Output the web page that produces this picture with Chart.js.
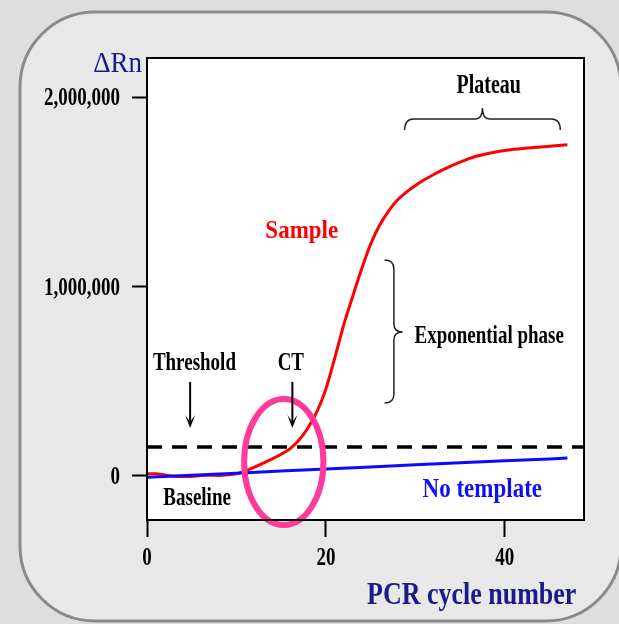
<!DOCTYPE html>
<html>
<head>
<meta charset="utf-8">
<script src="https://cdn.jsdelivr.net/npm/chart.js@4/dist/chart.umd.min.js"></script>
<style>
  html, body { margin: 0; padding: 0; background: #dedede; }
  #wrap { width: 619px; height: 624px; }
</style>
</head>
<body>
<div id="wrap"><canvas id="pcr" width="619" height="624"></canvas></div>
<script>
// Real-time PCR amplification plot – sample vs no template control
const cycles = [0,1,2,3,4,5,6,7,8,9,10,11,12,13,14,15,16,17,18,19,20,21,22,23,
  24,25,26,27,28,29,30,31,32,33,34,35,36,37,38,39,40,41,42,43,44,45,46,47];
const sampleRn = [12000,12000,6000,-1000,-3000,-2000,2000,4000,3000,6000,12000,27000,
  47000,68000,90000,115000,145000,190000,255000,340000,460000,625000,800000,950000,
  1095000,1225000,1325000,1400000,1458000,1500000,1535000,1565000,1592000,1616000,
  1639000,1659000,1677000,1692000,1703000,1712000,1720000,1726000,1731000,1735000,
  1738000,1742000,1746000,1750000];
const ntcCycles = [0,5,10,15,20,25,30,35,40,45,47];
const ntcRn = [-7000,4000,15000,26000,37000,48000,59000,70000,80000,90000,95000];
const thresholdRn = 153000;
const xTicks = [0, 20, 40];
const yTicks = [0, 1000000, 2000000];
const xRange = [0, 48.85];
const yRange = [-232500, 2208700];

const SERIF = '"Liberation Serif", "Times New Roman", serif';
const NAVY = '#1a1a8a';

function pts(xs, ys) { return xs.map((x, i) => ({ x: x, y: ys[i] })); }

// text drawn a bit taller than wide, like the stretched original bitmap
function txt(ctx, s, x, y, size, color, align, sy, weight) {
  ctx.save();
  ctx.font = (weight || 'bold') + ' ' + size + 'px ' + SERIF;
  ctx.fillStyle = color;
  ctx.textAlign = align;
  ctx.textBaseline = 'alphabetic';
  ctx.translate(x, y);
  ctx.scale(1, sy);
  ctx.fillText(s, 0, 0);
  ctx.restore();
}

function arrowDown(ctx, x, y1, y2) {
  ctx.save();
  ctx.strokeStyle = '#000';
  ctx.fillStyle = '#000';
  ctx.lineWidth = 2;
  ctx.beginPath();
  ctx.moveTo(x, y1); ctx.lineTo(x, y2 - 4);
  ctx.stroke();
  ctx.beginPath();
  ctx.moveTo(x - 5, y2 - 13); ctx.lineTo(x, y2); ctx.lineTo(x + 5, y2 - 13);
  ctx.lineTo(x, y2 - 6); ctx.closePath();
  ctx.fill();
  ctx.restore();
}

const decor = {
  id: 'decor',
  beforeDraw(chart) {
    const ctx = chart.ctx, a = chart.chartArea;
    ctx.save();
    ctx.fillStyle = '#dedede';
    ctx.fillRect(0, 0, chart.width, chart.height);
    ctx.beginPath();
    ctx.roundRect(20, 12, 601, 609, 75);
    ctx.fillStyle = '#e8e8e8';
    ctx.fill();
    ctx.strokeStyle = '#8a8a8a';
    ctx.lineWidth = 3;
    ctx.stroke();
    ctx.fillStyle = '#fff';
    ctx.fillRect(a.left, a.top, a.right - a.left, a.bottom - a.top);
    ctx.restore();
  },
  afterDatasetsDraw(chart) {
    const ctx = chart.ctx, a = chart.chartArea;
    const xs = chart.scales.x, ys = chart.scales.y;
    const X = v => xs.getPixelForValue(v);
    const Y = v => ys.getPixelForValue(v);

    // CT ring
    ctx.save();
    ctx.strokeStyle = '#ff3a9c';
    ctx.lineWidth = 6;
    ctx.beginPath();
    ctx.ellipse(X(15.29), Y(74000), X(15.29) - X(10.86), Y(-259000) - Y(74000), 0, 0, Math.PI * 2);
    ctx.stroke();
    ctx.restore();

    // labels
    txt(ctx, 'Plateau', X(38.2), Y(2024000), 20, '#000', 'center', 1.35);
    txt(ctx, 'Sample', X(17.3), Y(1258000), 23, '#ff0000', 'center', 1.1);
    txt(ctx, 'Exponential phase', X(29.9), Y(703000), 19, '#000', 'left', 1.3);
    txt(ctx, 'Threshold', X(5.3), Y(560000), 19, '#000', 'center', 1.35);
    txt(ctx, 'CT', X(16.08), Y(560000), 19, '#000', 'center', 1.35);
    txt(ctx, 'Baseline', X(5.6), Y(-153000), 19, '#000', 'center', 1.3);
    txt(ctx, 'No template', X(37.48), Y(-111000), 23, '#1010f0', 'center', 1.2);

    arrowDown(ctx, X(4.82), Y(497000), Y(254000));
    arrowDown(ctx, X(16.25), Y(497000), Y(254000));

    // plateau brace
    ctx.save();
    ctx.strokeStyle = '#222';
    ctx.lineWidth = 1.5;
    let x1 = X(28.8), x2 = X(46.2), xm = X(37.5);
    let yEnd = Y(1828000), yLine = Y(1887000), yTip = Y(1945000);
    ctx.beginPath();
    ctx.moveTo(x1, yEnd);
    ctx.quadraticCurveTo(x1, yLine, x1 + 9, yLine);
    ctx.lineTo(xm - 7, yLine);
    ctx.quadraticCurveTo(xm, yLine, xm, yTip);
    ctx.quadraticCurveTo(xm, yLine, xm + 7, yLine);
    ctx.lineTo(x2 - 9, yLine);
    ctx.quadraticCurveTo(x2, yLine, x2, yEnd);
    ctx.stroke();

    // exponential brace
    let bx0 = X(26.55), bx = X(27.6), btip = X(28.57);
    let by1 = Y(1141000), by2 = Y(386000), bym = Y(761000);
    ctx.beginPath();
    ctx.moveTo(bx0, by1);
    ctx.quadraticCurveTo(bx, by1, bx, by1 + 9);
    ctx.lineTo(bx, bym - 8);
    ctx.quadraticCurveTo(bx, bym, btip, bym);
    ctx.quadraticCurveTo(bx, bym, bx, bym + 8);
    ctx.lineTo(bx, by2 - 9);
    ctx.quadraticCurveTo(bx, by2, bx0, by2);
    ctx.stroke();
    ctx.restore();

    // plot frame
    ctx.save();
    ctx.strokeStyle = '#000';
    ctx.lineWidth = 2;
    ctx.strokeRect(a.left, a.top, a.right - a.left, a.bottom - a.top);
    ctx.restore();

    // tick labels, taller like the original
    ys.ticks.forEach(t => {
      txt(ctx, t.value.toLocaleString('en-US'), a.left - 27, Y(t.value) + 8, 19, '#000', 'right', 1.3);
    });
    xs.ticks.forEach(t => {
      txt(ctx, String(t.value), X(t.value), 565, 19, '#000', 'center', 1.3);
    });

    // axis titles
    txt(ctx, 'ΔRn', a.left - 5, 72, 27, NAVY, 'right', 1.1, 'normal');
    txt(ctx, 'PCR cycle number', 367, 604, 26, NAVY, 'left', 1.25);
  }
};

const hidden = 'rgba(0,0,0,0)';

new Chart(document.getElementById('pcr'), {
  type: 'line',
  data: {
    datasets: [
      { label: 'Threshold', data: pts(xRange, [thresholdRn, thresholdRn]),
        borderColor: '#000', borderWidth: 3.5, borderDash: [15, 10], pointRadius: 0, order: 0 },
      { label: 'No template', data: pts(ntcCycles, ntcRn),
        borderColor: '#0a0aff', borderWidth: 3, pointRadius: 0, order: 1 },
      { label: 'Sample', data: pts(cycles, sampleRn),
        borderColor: '#ff0000', borderWidth: 3, pointRadius: 0,
        cubicInterpolationMode: 'monotone', order: 2 }
    ]
  },
  options: {
    responsive: false,
    animation: false,
    layout: { padding: { left: 0, right: 35, top: 58, bottom: 0 } },
    plugins: { legend: { display: false }, tooltip: { enabled: false } },
    scales: {
      x: {
        type: 'linear', min: xRange[0], max: xRange[1],
        afterBuildTicks: s => { s.ticks = xTicks.map(v => ({ value: v })); },
        afterFit: s => { s.height = 104; },
        grid: { drawOnChartArea: false, tickLength: 17, tickColor: '#000', tickWidth: 2 },
        border: { display: false },
        ticks: { font: { family: SERIF, weight: 'bold', size: 19 }, color: hidden, padding: 6, maxRotation: 0 }
      },
      y: {
        type: 'linear', min: yRange[0], max: yRange[1],
        afterBuildTicks: s => { s.ticks = yTicks.map(v => ({ value: v })); },
        afterFit: s => { s.width = 147; },
        grid: { drawOnChartArea: false, tickLength: 15, tickColor: '#000', tickWidth: 2 },
        border: { display: false },
        ticks: { font: { family: SERIF, weight: 'bold', size: 19 }, color: hidden, padding: 12,
          callback: v => v.toLocaleString('en-US') }
      }
    }
  },
  plugins: [decor]
});
</script>
</body>
</html>
